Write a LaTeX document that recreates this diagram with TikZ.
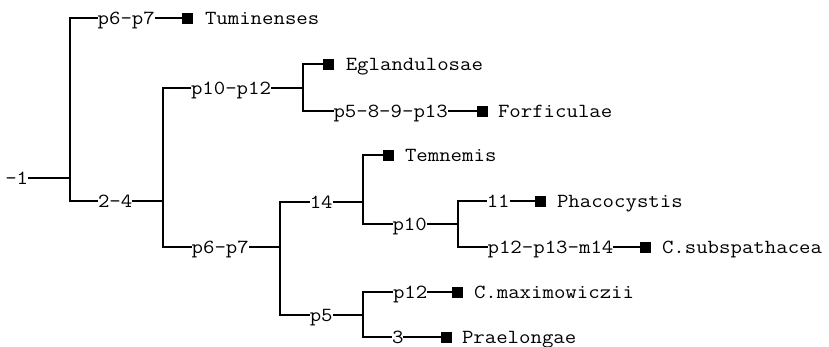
\documentclass[tikz,border=0pt]{standalone}
\usepackage{fontspec}
\setmonofont[FakeStretch=1.11]{Latin Modern Mono}
\begin{document}
\begin{tikzpicture}[x=1pt,y=-1pt,
  lbl/.style={anchor=west,inner sep=0pt,outer sep=0pt,text height=14pt,text depth=1.8pt,
    font=\ttfamily\fontsize{20}{24}\selectfont},
  leaf/.style={fill=black,draw=none,minimum size=11pt,inner sep=0pt,outer sep=0pt},
  edge/.style={line width=1.3pt,black}]
\useasboundingbox (0,0) rectangle (829,346);
% labels
\node[lbl] (root) at (5.3,178) {-1};
\node[lbl] (a) at (97.7,18) {p6-p7};
\node[leaf] (sa) at (187.5,18) {};
\node[lbl] (ta) at (205,18) {Tuminenses};
\node[lbl] (b) at (98,201) {2-4};
\node[lbl] (c) at (191,88) {p10-p12};
\node[leaf] (sc) at (328.5,64) {};
\node[lbl] (tc) at (345.8,64) {Eglandulosae};
\node[lbl] (d) at (333.5,111) {p5-8-9-p13};
\node[leaf] (sd) at (482.5,111) {};
\node[lbl] (td) at (498,111) {Forficulae};
\node[lbl] (e) at (191.7,247) {p6-p7};
\node[lbl] (f) at (309.8,202) {14};
\node[leaf] (sf) at (388,155) {};
\node[lbl] (tf) at (405,155) {Temnemis};
\node[lbl] (g) at (392.5,224) {p10};
\node[lbl] (h) at (486.8,201) {11};
\node[leaf] (sh) at (540.5,201) {};
\node[lbl] (th) at (557,201) {Phacocystis};
\node[lbl] (i) at (487.6,247) {p12-p13-m14};
\node[leaf] (si) at (645,247) {};
\node[lbl] (ti) at (662,247) {C.subspathacea};
\node[lbl] (k) at (309.8,315) {p5};
\node[lbl] (l) at (393,292) {p12};
\node[leaf] (sl) at (457.5,292) {};
\node[lbl] (tl) at (474,292) {C.maximowiczii};
\node[lbl] (m) at (392,337) {3};
\node[leaf] (sm) at (446.5,337) {};
\node[lbl] (tm) at (462,337) {Praelongae};
% joints
\coordinate (j1) at (70,178);
\coordinate (j2) at (163,201);
\coordinate (j3) at (303,88);
\coordinate (j4) at (280,247);
\coordinate (j5) at (363,202);
\coordinate (j6) at (458,224);
\coordinate (j7) at (363,315);
% connectors
\draw[edge] (root.east) -- (j1);
\draw[edge] (a.west) -| (j1) |- (b.west);
\draw[edge] (a.east) -- (sa.west);
\draw[edge] (b.east) -- (j2);
\draw[edge] (c.west) -| (j2) |- (e.west);
\draw[edge] (c.east) -- (j3);
\draw[edge] (sc.west) -| (j3) |- (d.west);
\draw[edge] (d.east) -- (sd.west);
\draw[edge] (e.east) -- (j4);
\draw[edge] (f.west) -| (j4) |- (k.west);
\draw[edge] (f.east) -- (j5);
\draw[edge] (sf.west) -| (j5) |- (g.west);
\draw[edge] (g.east) -- (j6);
\draw[edge] (h.west) -| (j6) |- (i.west);
\draw[edge] (h.east) -- (sh.west);
\draw[edge] (i.east) -- (si.west);
\draw[edge] (k.east) -- (j7);
\draw[edge] (l.west) -| (j7) |- (m.west);
\draw[edge] (l.east) -- (sl.west);
\draw[edge] (m.east) -- (sm.west);
\end{tikzpicture}
\end{document}
